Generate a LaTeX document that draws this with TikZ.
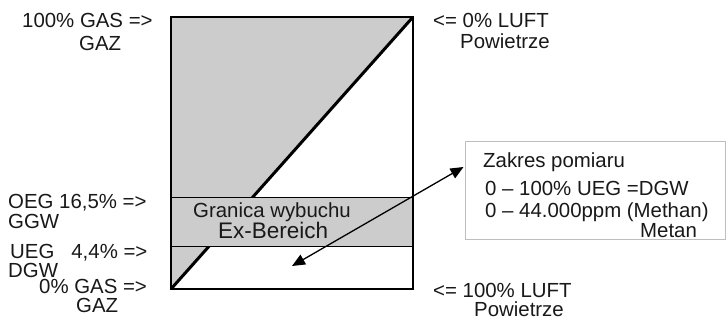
\documentclass[tikz,border=0pt]{standalone}
\usepackage{fontspec}
\setmainfont{Liberation Sans}
\usetikzlibrary{arrows.meta}
\definecolor{fillgray}{RGB}{204,204,204}
\definecolor{txtgray}{RGB}{25,25,25}
\definecolor{boxgray}{RGB}{190,190,190}
\tikzset{
  lbl/.style={anchor=base west, inner sep=0pt, text=txtgray, font=\fontsize{20.4bp}{22bp}\selectfont},
  biglbl/.style={lbl, font=\fontsize{22.5bp}{24bp}\selectfont},
  bandbox/.style={draw=black, fill=fillgray, line width=1.5bp, minimum width=242bp, minimum height=49bp, inner sep=0pt},
  framebox/.style={draw=black, line width=2bp, minimum width=242bp, minimum height=272bp, inner sep=0pt},
  infobox/.style={draw=boxgray, fill=white, line width=1bp, minimum width=260bp, minimum height=98bp, inner sep=0pt},
  dblarrow/.style={{Triangle[length=13bp,width=11bp]}-{Triangle[length=13bp,width=11bp]}, line width=1.3bp}
}
\begin{document}
\begin{tikzpicture}[x=1bp,y=-1bp]
\useasboundingbox (0,0) rectangle (726,320);
% gray triangle above diagonal
\fill[fillgray] (171,17) -- (413,17) -- (171,289) -- cycle;
\coordinate (bl) at (171,289);
\coordinate (tr) at (413,17);
\draw[line width=3bp] (bl) -- (tr);
% band
\node[bandbox] (band) at (292,222) {};
% frame
\node[framebox] (frame) at (292,153) {};
% info box
\node[infobox] (info) at (595,190) {};
% arrow
\coordinate (tip) at (292,266);
\draw[dblarrow] (tip) -- ([yshift=23bp,xshift=-1bp]info.west);
% band text
\node[lbl] (g1) at (193,217) {Granica wybuchu};
\node[biglbl] (g2) at (218,238) {Ex-Bereich};
% left labels
\node[lbl] (l1) at (22,27) {100\% GAS =>};
\node[lbl] (l1b) at (79,50) {GAZ};
\node[lbl] (l2) at (8,208) {OEG 16,5\% =>};
\node[lbl] (l2b) at (8,228) {GGW};
\node[lbl] (l3) at (10,258) {UEG\ \ \ 4,4\% =>};
\node[lbl] (l3b) at (8,277) {DGW};
\node[lbl] (l4) at (39,293) {0\% GAS =>};
\node[lbl] (l4b) at (76,312) {GAZ};
% right labels
\node[lbl] (r1) at (433,27) {<= 0\% LUFT};
\node[lbl] (r1b) at (460,48) {Powietrze};
\node[lbl] (r2) at (433,297) {<= 100\% LUFT};
\node[lbl] (r2b) at (474,316) {Powietrze};
% info text
\node[lbl] (i1) at (483,167) {Zakres pomiaru};
\node[lbl] (i2) at (485,195) {0 – 100\% UEG =DGW};
\node[lbl] (i3) at (485,217) {0 – 44.000ppm (Methan)};
\node[lbl] (i4) at (640,237) {Metan};
\end{tikzpicture}
\end{document}
